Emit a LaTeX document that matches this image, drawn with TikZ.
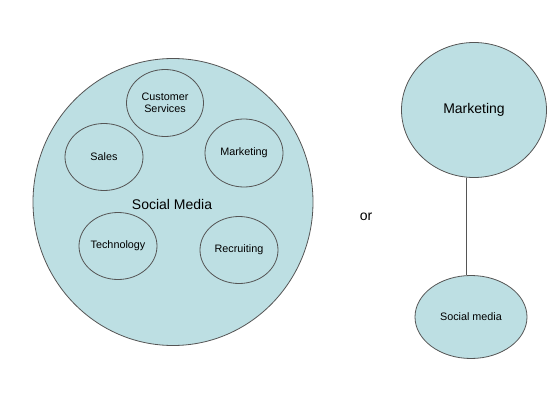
\documentclass[tikz,border=0pt]{standalone}
\usepackage{fontspec}
\setmainfont{Liberation Sans}
\usetikzlibrary{shapes.geometric}
\definecolor{bubble}{HTML}{BDDFE3}
\definecolor{edge}{HTML}{555555}
\tikzset{
  bub/.style={ellipse, draw=edge, fill=bubble, line width=0.8pt, inner sep=0pt},
  small/.style={font=\fontsize{10.8}{12.5}\selectfont, align=center},
  big/.style={font=\fontsize{14}{16}\selectfont}
}
\begin{document}
\begin{tikzpicture}[x=1pt,y=-1pt]
\useasboundingbox (0,0) rectangle (560,420);
\node[bub, minimum width=280pt, minimum height=287pt] (sm) at (173,202) {};
\node[big] (smt) at (172,204) {Social Media};
\node[bub, small, minimum width=77pt, minimum height=67pt] (cs) at (165,103) {Customer\\Services};
\node[bub, small, minimum width=78pt, minimum height=67pt] (sa) at (104,157) {Sales};
\node[bub, small, minimum width=78pt, minimum height=68pt] (mk) at (244,153) {Marketing};
\node[bub, small, minimum width=78pt, minimum height=67pt] (te) at (118,246) {Technology};
\node[bub, small, minimum width=78pt, minimum height=67pt] (re) at (239,250) {Recruiting};
\node[big] (or) at (366,217) {or};
\node[bub, big, minimum width=145pt, minimum height=135pt] (mk2) at (474,110) {Marketing};
\node[bub, small, minimum width=112pt, minimum height=83pt] (sm2) at (471,317) {Social media};
\draw[edge, line width=0.8pt] (mk2.south -| 466,0) -- (sm2.north -| 466,0);
\end{tikzpicture}
\end{document}
